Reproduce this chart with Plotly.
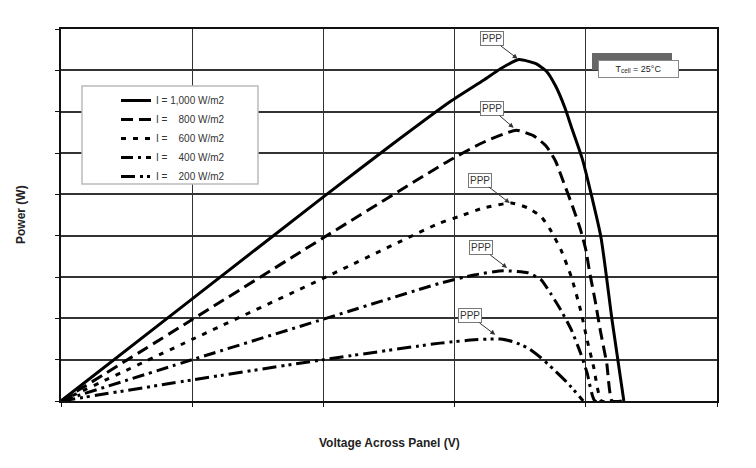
import plotly.graph_objects as go

# Data (grid units; axes carry no tick labels)
v1000 = [0, 1, 2, 2.5, 2.97, 3.22, 3.35, 3.49, 3.62, 3.70, 3.77, 3.84, 3.89, 3.975, 4.115, 4.20, 4.29]
p1000 = [0, 2.47, 4.94, 6.15, 7.25, 7.76, 8.04, 8.26, 8.16, 7.98, 7.62, 7.10, 6.63, 5.84, 3.97, 1.96, 0]

v800 = [0, 1, 2, 2.96, 3.22, 3.47, 3.60, 3.70, 3.77, 3.83, 3.90, 3.96, 4.0, 4.03, 4.07, 4.11, 4.16, 4.20, 4.29]
p800 = [0, 1.97, 3.95, 5.82, 6.26, 6.55, 6.42, 6.16, 5.80, 5.30, 4.70, 4.14, 3.66, 3.10, 2.45, 1.72, 0.9, 0, 0]

v600 = [0, 1, 2, 2.89, 3.03, 3.22, 3.43, 3.56, 3.66, 3.73, 3.81, 3.89, 3.96, 4.01, 4.06, 4.12, 4.29]
p600 = [0, 1.49, 2.97, 4.31, 4.46, 4.67, 4.79, 4.67, 4.46, 4.14, 3.66, 3.0, 2.2, 1.48, 0.82, 0, 0]

v400 = [0, 1, 2, 2.89, 3.15, 3.37, 3.56, 3.66, 3.73, 3.81, 3.89, 3.96, 4.01, 4.07, 4.29]
p400 = [0, 1.0, 1.98, 2.85, 3.05, 3.15, 3.10, 2.93, 2.61, 2.20, 1.72, 1.16, 0.68, 0, 0]

v200 = [0, 1, 2, 2.89, 3.15, 3.35, 3.45, 3.56, 3.66, 3.76, 3.86, 3.98]
p200 = [0, 0.51, 1.0, 1.40, 1.48, 1.50, 1.43, 1.28, 1.04, 0.75, 0.44, 0]

series_names = ["I = 1,000 W/m2", "I =\u2007\u2007800 W/m2", "I =\u2007\u2007600 W/m2",
                "I =\u2007\u2007400 W/m2", "I =\u2007\u2007200 W/m2"]

# PPP (peak power point) arrow tips
ppp_v = [3.48, 3.45, 3.42, 3.40, 3.31]
ppp_p = [8.28, 6.61, 4.79, 3.22, 1.60]
ppp_ax = [-26, -22, -30, -26, -25]
ppp_ay = [-20, -19, -23, -20, -19]

x_title = "Voltage Across Panel (V)"
y_title = "Power (W)"

FONT = "Liberation Sans, Arial, sans-serif"

W, H = 756, 468
L, R, T, B = 61, 39, 29, 67
PW, PH = W - L - R, H - T - B


def px(xp):
    return (xp - L) / PW


def py(yp):
    return (H - B - yp) / PH


fig = go.Figure()
dashes = ["solid", "12px,6px", "5px,7px", "12px,5px,3px,5px", "14px,5px,3px,4px,3px,5px"]
data = [(v1000, p1000), (v800, p800), (v600, p600), (v400, p400), (v200, p200)]
for (v, p), name, d in zip(data, series_names, dashes):
    fig.add_trace(go.Scatter(
        x=v, y=p, mode="lines", name=name,
        line=dict(color="black", width=3, dash=d, shape="spline", smoothing=0.5),
    ))

# legend box drawn behind the native legend
fig.add_shape(type="rect", xref="paper", yref="paper",
              x0=px(82), x1=px(258), y0=py(184), y1=py(86),
              line=dict(color="#bbbbbb", width=1.5), fillcolor="white", layer="above")

# Tcell label shadow
fig.add_shape(type="rect", xref="paper", yref="paper",
              x0=px(592), x1=px(672), y0=py(70), y1=py(53),
              line=dict(width=0), fillcolor="#666666", layer="above")

fig.add_annotation(xref="paper", yref="paper", x=px(638.5), y=py(68.5),
                   xanchor="center", yanchor="middle",
                   text="T<sub>cell</sub> = 25°C", showarrow=False,
                   font=dict(family=FONT, size=9, color="#222"),
                   bgcolor="white", bordercolor="#888", borderwidth=1, borderpad=1,
                   width=77, height=14)

for v, p, ax, ay in zip(ppp_v, ppp_p, ppp_ax, ppp_ay):
    fig.add_annotation(x=v, y=p, text="PPP", showarrow=True, ax=ax, ay=ay,
                       arrowhead=2, arrowsize=1, arrowwidth=1, arrowcolor="#333",
                       font=dict(family=FONT, size=10, color="#333"),
                       bgcolor="white", bordercolor="#777", borderwidth=1, borderpad=1)

fig.add_annotation(xref="paper", yref="paper", x=0.5, y=py(443),
                   xanchor="center", yanchor="middle",
                   text="<b>" + x_title + "</b>", showarrow=False,
                   font=dict(family=FONT, size=12, color="#222"))
fig.add_annotation(xref="paper", yref="paper", x=px(21), y=0.5,
                   xanchor="center", yanchor="middle",
                   text="<b>" + y_title + "</b>", showarrow=False, textangle=-90,
                   font=dict(family=FONT, size=12, color="#222"))

fig.update_layout(
    width=W, height=H,
    margin=dict(l=L, r=R, t=T, b=B),
    paper_bgcolor="white", plot_bgcolor="white",
    font=dict(family=FONT, size=10, color="#333"),
    showlegend=True,
    legend=dict(x=px(116), y=py(86), xanchor="left", yanchor="top",
                bgcolor="rgba(0,0,0,0)", borderwidth=0,
                font=dict(family=FONT, size=10, color="#333")),
    xaxis=dict(range=[0, 5], dtick=1, tick0=0, showgrid=True, gridcolor="#333", gridwidth=1,
               zeroline=False, showline=True, linecolor="#111", linewidth=1.5, mirror=True,
               ticks="outside", ticklen=4, tickcolor="#111", showticklabels=False),
    yaxis=dict(range=[0, 9], dtick=1, tick0=0, showgrid=True, gridcolor="#333", gridwidth=1.5,
               zeroline=False, showline=True, linecolor="#111", linewidth=1.5, mirror=True,
               ticks="outside", ticklen=4, tickcolor="#111", showticklabels=False),
)

fig.write_html("out.html", config={"displayModeBar": False},
               post_script="document.body.style.margin='0';document.body.style.padding='0';")
